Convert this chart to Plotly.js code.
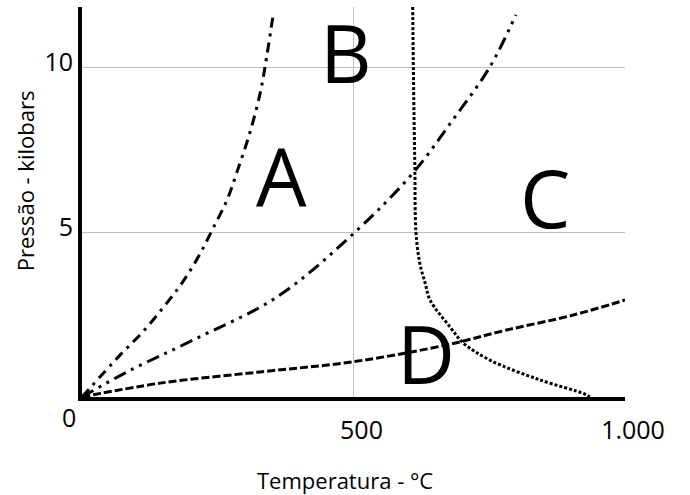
<!DOCTYPE html>
<html>
<head>
<meta charset="utf-8">
<script src="https://cdn.plot.ly/plotly-3.0.1.min.js"></script>
<style>html,body{margin:0;padding:0;background:#fff;}#chart{width:690px;height:495px;}</style>
</head>
<body>
<div id="chart"></div>
<script>
// Curve A (dash-dot, steep)
const curveA_T = [0, 70, 110, 149, 184, 214, 241, 267, 285, 309, 328, 337, 352];
const curveA_P = [0, 1.27, 1.94, 2.7, 3.45, 4.24, 5.1, 5.97, 6.8, 8.0, 9.2, 10.0, 11.58];
// Curve B (dash-dot-dot)
const curveB_T = [0, 83, 205, 359, 503, 610, 683, 751, 799];
const curveB_P = [0, 0.76, 1.73, 3.03, 5.0, 6.8, 8.4, 10.0, 11.58];
// Curve C (dashed, shallow)
const curveC_T = [0, 144, 328, 500, 672, 782, 904, 1000];
const curveC_P = [0, 0.42, 0.76, 1.07, 1.58, 2.03, 2.48, 2.94];
// Curve D (dotted, near vertical then bending)
const curveD_T = [609, 611, 613, 615, 622, 632, 641, 678, 702, 751, 843, 926, 935];
const curveD_P = [11.82, 9.0, 7.0, 5.0, 4.06, 3.45, 2.94, 2.12, 1.64, 1.12, 0.52, 0.09, 0];

// Region labels
const regionLabels = ["A", "B", "C", "D"];
const regionT = [368, 486, 853, 634];
const regionP = [6.76, 10.5, 6.09, 1.36];

// Axis ticks
const xTickVals = [500, 1000];
const xTickText = ["500", "1.000"];
const yTickVals = [5, 10];
const yTickText = ["5", "10"];
const originLabel = "0";

const FONT = "Open Sans, sans-serif";

const traces = [
  {x: curveA_T, y: curveA_P, mode: "lines", line: {color: "#000", width: 3, dash: "10px,6px,3px,6px", shape: "spline", smoothing: 1}, hoverinfo: "skip"},
  {x: curveB_T, y: curveB_P, mode: "lines", line: {color: "#000", width: 3, dash: "13px,6px,3px,6px,3px,6px", shape: "spline", smoothing: 1}, hoverinfo: "skip"},
  {x: curveC_T, y: curveC_P, mode: "lines", line: {color: "#000", width: 3, dash: "8px,3px", shape: "spline"}, hoverinfo: "skip"},
  {x: curveD_T, y: curveD_P, mode: "lines", line: {color: "#000", width: 3, dash: "3px,2px", shape: "spline"}, hoverinfo: "skip"}
];

const annotations = regionLabels.map((t, i) => ({
  x: regionT[i], y: regionP[i], xref: "x", yref: "y", text: t, showarrow: false,
  font: {family: FONT, size: 80, color: "#000"}, xanchor: "center", yanchor: "middle",
  height: 84, valign: "middle"
}));
annotations.push({x: -0.024, y: -0.051, xref: "paper", yref: "paper", text: originLabel, showarrow: false,
  font: {family: FONT, size: 25, color: "#000"}, xanchor: "center", yanchor: "middle"});
annotations.push({x: 0.484, y: -0.213, xref: "paper", yref: "paper", text: "Temperatura - °C", showarrow: false,
  font: {family: FONT, size: 22, color: "#000"}, xanchor: "center", yanchor: "middle"});
annotations.push({x: -0.105, y: 0.556, xref: "paper", yref: "paper", text: "Pressão - kilobars", showarrow: false,
  textangle: -90, font: {family: FONT, size: 22, color: "#000"}, xanchor: "center", yanchor: "middle"});

const layout = {
  width: 690, height: 495,
  margin: {l: 82, r: 65, t: 7, b: 98},
  paper_bgcolor: "#fff", plot_bgcolor: "#fff",
  showlegend: false,
  font: {family: FONT, color: "#000"},
  xaxis: {
    range: [0, 1000], showline: true, linecolor: "#000", linewidth: 4,
    showgrid: true, gridcolor: "#bfbfbf", gridwidth: 1, zeroline: false,
    tickmode: "array", tickvals: xTickVals, ticktext: xTickText, ticks: "",
    tickfont: {family: FONT, size: 25, color: "#000"}, ticklabelshift: 8, ticklabelstandoff: 8
  },
  yaxis: {
    range: [0, 11.82], showline: true, linecolor: "#000", linewidth: 4,
    showgrid: true, gridcolor: "#bfbfbf", gridwidth: 1, zeroline: false,
    tickmode: "array", tickvals: yTickVals, ticktext: yTickText, ticks: "",
    tickfont: {family: FONT, size: 25, color: "#000"}, ticklabelshift: -5, ticklabelstandoff: 0
  },
  annotations: annotations
};

Plotly.newPlot("chart", traces, layout, {staticPlot: true, displayModeBar: false});
</script>
</body>
</html>
